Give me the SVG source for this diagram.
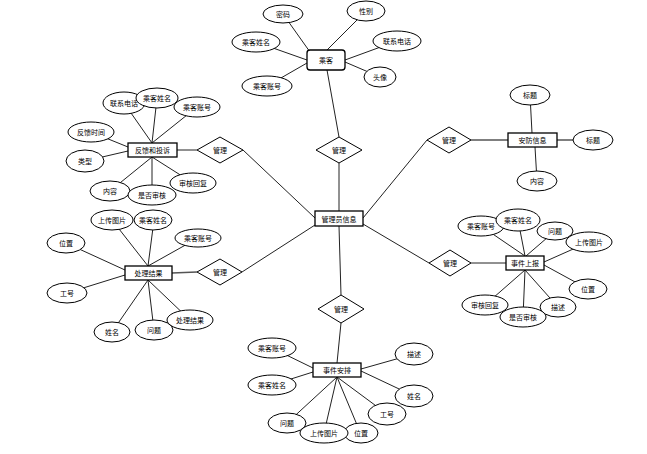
<svg xmlns="http://www.w3.org/2000/svg" width="647" height="454" viewBox="0 0 647 454">
<style>
.c line{stroke:#222;stroke-width:1;fill:none}
.e{fill:#fff;stroke:#000;stroke-width:1}
.r{fill:#fff;stroke:#000;stroke-width:1.3}
.d{fill:#fff;stroke:#000;stroke-width:1}
text{font-family:"Noto Sans CJK SC","Liberation Sans",sans-serif;font-size:7px;fill:#000;text-anchor:middle;dominant-baseline:central}
</style>
<rect width="647" height="454" fill="#fff"/>
<g id="connectors" class="c">
<!-- 乘客 -->
<line x1="283" y1="14" x2="310" y2="52"/>
<line x1="366" y1="11" x2="327" y2="50"/>
<line x1="256" y1="42" x2="307" y2="60"/>
<line x1="397" y1="41" x2="345" y2="60"/>
<line x1="380" y1="77" x2="345" y2="62"/>
<line x1="267" y1="86" x2="307" y2="63"/>
<line x1="327" y1="70" x2="339" y2="137"/>
<!-- 管理员信息 -->
<line x1="339" y1="163" x2="339" y2="211"/>
<line x1="243" y1="150" x2="315" y2="218"/>
<line x1="427" y1="140" x2="363" y2="218"/>
<line x1="242" y1="272" x2="315" y2="225"/>
<line x1="429" y1="263" x2="363" y2="224"/>
<line x1="341" y1="295" x2="339" y2="226"/>
<!-- 反馈和投诉 -->
<line x1="177" y1="150" x2="197" y2="150"/>
<line x1="124" y1="103" x2="152" y2="143"/>
<line x1="157" y1="98" x2="152" y2="143"/>
<line x1="197" y1="107" x2="152" y2="143"/>
<line x1="91" y1="132" x2="128" y2="147"/>
<line x1="85" y1="161" x2="128" y2="151"/>
<line x1="110" y1="191" x2="152" y2="157"/>
<line x1="152" y1="195" x2="152" y2="157"/>
<line x1="193" y1="183" x2="152" y2="157"/>
<!-- 处理结果 -->
<line x1="172" y1="273" x2="197" y2="272" style="stroke-width:1.6;stroke:#555"/>
<line x1="112" y1="220" x2="148" y2="266"/>
<line x1="154" y1="220" x2="148" y2="266"/>
<line x1="198" y1="238" x2="148" y2="266"/>
<line x1="66" y1="243" x2="125" y2="270"/>
<line x1="67" y1="293" x2="125" y2="275"/>
<line x1="112" y1="332" x2="148" y2="280"/>
<line x1="154" y1="330" x2="148" y2="280"/>
<line x1="190" y1="320" x2="148" y2="280"/>
<!-- 安防信息 -->
<line x1="471" y1="140" x2="508" y2="140" style="stroke-width:1.6;stroke:#555"/>
<line x1="530" y1="95" x2="532" y2="133"/>
<line x1="557" y1="140" x2="593" y2="140" style="stroke-width:1.6;stroke:#555"/>
<line x1="535" y1="147" x2="537" y2="181"/>
<!-- 事件上报 -->
<line x1="471" y1="263" x2="506" y2="263"/>
<line x1="481" y1="226" x2="525" y2="256"/>
<line x1="518" y1="220" x2="525" y2="256"/>
<line x1="555" y1="231" x2="526" y2="256"/>
<line x1="589" y1="242" x2="544" y2="262"/>
<line x1="588" y1="289" x2="544" y2="265"/>
<line x1="558" y1="307" x2="525" y2="270"/>
<line x1="523" y1="317" x2="525" y2="270"/>
<line x1="485" y1="305" x2="525" y2="270"/>
<!-- 事件安排 -->
<line x1="341" y1="323" x2="337" y2="363"/>
<line x1="272" y1="348" x2="313" y2="368"/>
<line x1="272" y1="385" x2="313" y2="372"/>
<line x1="414" y1="354" x2="361" y2="369"/>
<line x1="414" y1="396" x2="361" y2="371"/>
<line x1="387" y1="414" x2="337" y2="377"/>
<line x1="287" y1="423" x2="337" y2="377"/>
<line x1="324" y1="433" x2="337" y2="377"/>
<line x1="360" y1="432" x2="337" y2="377"/>
</g>

<g id="passenger">
<rect class="r" x="307" y="50" width="38" height="20" rx="3"/>
<text x="326" y="60">乘客</text>
</g>
<g id="p-mima"><ellipse class="e" cx="283" cy="14" rx="20" ry="9"/><text x="283" y="14">密码</text></g>
<g id="p-xingbie"><ellipse class="e" cx="366" cy="11" rx="19" ry="10"/><text x="366" y="11">性别</text></g>
<g id="p-name"><ellipse class="e" cx="256" cy="42" rx="24" ry="10"/><text x="256" y="42">乘客姓名</text></g>
<g id="p-phone"><ellipse class="e" cx="397" cy="41" rx="24" ry="10"/><text x="397" y="41">联系电话</text></g>
<g id="p-avatar"><ellipse class="e" cx="380" cy="77" rx="16" ry="10"/><text x="380" y="77">头像</text></g>
<g id="p-account"><ellipse class="e" cx="267" cy="86" rx="25" ry="10"/><text x="267" y="86">乘客账号</text></g>

<g id="rel-top"><polygon class="d" points="339,137 362,150 339,163 316,150"/><text x="339" y="150">管理</text></g>

<g id="admin">
<rect class="r" x="315" y="211" width="48" height="15"/>
<text x="339" y="218.5">管理员信息</text>
</g>

<g id="feedback">
<rect class="r" x="128" y="143" width="49" height="14"/>
<text x="152.5" y="150">反馈和投诉</text>
</g>
<g id="rel-feedback"><polygon class="d" points="220,137 243,150 220,163 197,150"/><text x="220" y="150">管理</text></g>
<g id="f-phone"><ellipse class="e" cx="124" cy="103" rx="21" ry="11"/><text x="124" y="103">联系电话</text></g>
<g id="f-name"><ellipse class="e" cx="157" cy="98" rx="21" ry="10"/><text x="157" y="98">乘客姓名</text></g>
<g id="f-account"><ellipse class="e" cx="197" cy="107" rx="23" ry="10"/><text x="197" y="107">乘客账号</text></g>
<g id="f-time"><ellipse class="e" cx="91" cy="132" rx="23" ry="10"/><text x="91" y="132">反馈时间</text></g>
<g id="f-type"><ellipse class="e" cx="85" cy="161" rx="19" ry="11"/><text x="85" y="161">类型</text></g>
<g id="f-content"><ellipse class="e" cx="110" cy="191" rx="20" ry="10"/><text x="110" y="191">内容</text></g>
<g id="f-reply"><ellipse class="e" cx="193" cy="183" rx="23" ry="10"/><text x="193" y="183">审核回复</text></g>
<g id="f-audit"><ellipse class="e" cx="152" cy="195" rx="24" ry="10"/><text x="152" y="195">是否审核</text></g>

<g id="result">
<rect class="r" x="125" y="266" width="47" height="14"/>
<text x="148.5" y="273">处理结果</text>
</g>
<g id="rel-result"><polygon class="d" points="220,259 242,272 220,285 197,272"/><text x="220" y="272">管理</text></g>
<g id="r-pic"><ellipse class="e" cx="112" cy="220" rx="21" ry="10"/><text x="112" y="220">上传图片</text></g>
<g id="r-name"><ellipse class="e" cx="153" cy="220" rx="19" ry="10"/><text x="153" y="220">乘客姓名</text></g>
<g id="r-account"><ellipse class="e" cx="198" cy="238" rx="23" ry="9"/><text x="198" y="238">乘客账号</text></g>
<g id="r-pos"><ellipse class="e" cx="66" cy="243" rx="19" ry="10"/><text x="66" y="243">位置</text></g>
<g id="r-no"><ellipse class="e" cx="67" cy="293" rx="20" ry="10"/><text x="67" y="293">工号</text></g>
<g id="r-xm"><ellipse class="e" cx="112" cy="332" rx="18" ry="10"/><text x="112" y="332">姓名</text></g>
<g id="r-result"><ellipse class="e" cx="190" cy="320" rx="23" ry="10"/><text x="190" y="320">处理结果</text></g>
<g id="r-q"><ellipse class="e" cx="154" cy="330" rx="19" ry="10"/><text x="154" y="330">问题</text></g>

<g id="security">
<rect class="r" x="508" y="133" width="49" height="14"/>
<text x="532.5" y="140">安防信息</text>
</g>
<g id="rel-security"><polygon class="d" points="449,127 471,140 449,153 427,140"/><text x="449" y="140">管理</text></g>
<g id="s-title1"><ellipse class="e" cx="530" cy="95" rx="20" ry="10"/><text x="530" y="95">标题</text></g>
<g id="s-title2"><ellipse class="e" cx="593" cy="140" rx="20" ry="10"/><text x="593" y="140">标题</text></g>
<g id="s-content"><ellipse class="e" cx="537" cy="181" rx="20" ry="10"/><text x="537" y="181">内容</text></g>

<g id="report">
<rect class="r" x="506" y="256" width="38" height="14"/>
<text x="525" y="263">事件上报</text>
</g>
<g id="rel-report"><polygon class="d" points="450,250 471,263 450,276 429,263"/><text x="450" y="263">管理</text></g>
<g id="e-account"><ellipse class="e" cx="481" cy="226" rx="23" ry="10"/><text x="481" y="226">乘客账号</text></g>
<g id="e-name"><ellipse class="e" cx="518" cy="220" rx="22" ry="11"/><text x="518" y="220">乘客姓名</text></g>
<g id="e-q"><ellipse class="e" cx="555" cy="231" rx="18" ry="9"/><text x="555" y="231">问题</text></g>
<g id="e-pic"><ellipse class="e" cx="589" cy="242" rx="23" ry="10"/><text x="589" y="242">上传图片</text></g>
<g id="e-pos"><ellipse class="e" cx="588" cy="289" rx="19" ry="10"/><text x="588" y="289">位置</text></g>
<g id="e-desc"><ellipse class="e" cx="558" cy="307" rx="18" ry="10"/><text x="558" y="307">描述</text></g>
<g id="e-reply"><ellipse class="e" cx="485" cy="305" rx="23" ry="10"/><text x="485" y="305">审核回复</text></g>
<g id="e-audit"><ellipse class="e" cx="523" cy="317" rx="23" ry="10"/><text x="523" y="317">是否审核</text></g>

<g id="arrange">
<rect class="r" x="313" y="363" width="48" height="14"/>
<text x="337" y="370">事件安排</text>
</g>
<g id="rel-arrange"><polygon class="d" points="341,295 364,309 341,323 318,309"/><text x="341" y="309">管理</text></g>
<g id="a-account"><ellipse class="e" cx="272" cy="348" rx="24" ry="10"/><text x="272" y="348">乘客账号</text></g>
<g id="a-name"><ellipse class="e" cx="272" cy="385" rx="24" ry="10"/><text x="272" y="385">乘客姓名</text></g>
<g id="a-desc"><ellipse class="e" cx="414" cy="354" rx="19" ry="11"/><text x="414" y="354">描述</text></g>
<g id="a-xm"><ellipse class="e" cx="414" cy="396" rx="19" ry="11"/><text x="414" y="396">姓名</text></g>
<g id="a-no"><ellipse class="e" cx="387" cy="414" rx="19" ry="11"/><text x="387" y="414">工号</text></g>
<g id="a-q"><ellipse class="e" cx="287" cy="423" rx="19" ry="10"/><text x="287" y="423">问题</text></g>
<g id="a-pos"><ellipse class="e" cx="361" cy="433" rx="17" ry="10"/><text x="361" y="433">位置</text></g>
<g id="a-pic"><ellipse class="e" cx="324" cy="433" rx="24" ry="10"/><text x="324" y="433">上传图片</text></g>
</svg>
